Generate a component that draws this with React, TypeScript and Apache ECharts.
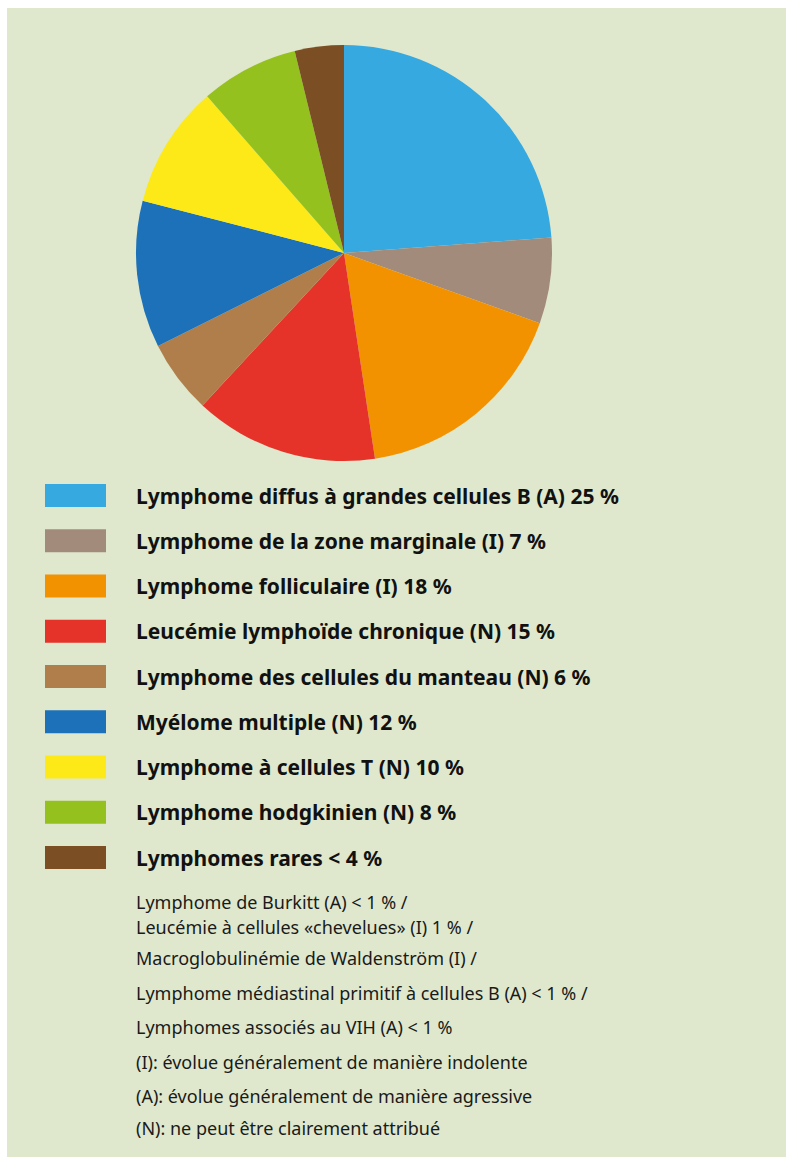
import React, { useEffect, useRef } from "react";
import * as echarts from "echarts";

const categories = [
  "Lymphome diffus à grandes cellules B (A)",
  "Lymphome de la zone marginale (I)",
  "Lymphome folliculaire (I)",
  "Leucémie lymphoïde chronique (N)",
  "Lymphome des cellules du manteau (N)",
  "Myélome multiple (N)",
  "Lymphome à cellules T (N)",
  "Lymphome hodgkinien (N)",
  "Lymphomes rares",
];
const values = [25, 7, 18, 15, 6, 12, 10, 8, 4];
const valueLabels = ["25 %", "7 %", "18 %", "15 %", "6 %", "12 %", "10 %", "8 %", "< 4 %"];
const colors = [
  "#36a9e1",
  "#a38b7b",
  "#f39200",
  "#e6332a",
  "#b07e4a",
  "#1d71b8",
  "#fde917",
  "#95c11f",
  "#7b4e24",
];
const notes = [
  "Lymphome de Burkitt (A) < 1 % /",
  "Leucémie à cellules «chevelues» (I) 1 % /",
  "Macroglobulinémie de Waldenström (I) /",
  "Lymphome médiastinal primitif à cellules B (A) < 1 % /",
  "Lymphomes associés au VIH (A) < 1 %",
  "(I): évolue généralement de manière indolente",
  "(A): évolue généralement de manière agressive",
  "(N): ne peut être clairement attribué",
];
const noteY = [902, 927, 958, 993, 1027, 1062, 1096, 1128];

const FONT = '"Noto Sans", "Open Sans", sans-serif';

export default function App() {
  const ref = useRef<HTMLDivElement>(null);
  useEffect(() => {
    if (!ref.current) return;
    const chart = echarts.init(ref.current, null, { renderer: "svg" });
    const labelMap: Record<string, string> = {};
    categories.forEach((c, i) => (labelMap[c] = c + " " + valueLabels[i]));
    chart.setOption({
      animation: false,
      backgroundColor: "#ffffff",
      color: colors,
      graphic: [
        {
          type: "rect",
          z: -10,
          silent: true,
          shape: { x: 7, y: 8, width: 779, height: 1149 },
          style: { fill: "#dfe8cd" },
        },
        ...notes.map((t, i) => ({
          type: "text",
          x: 136,
          y: noteY[i],
          style: {
            text: t,
            fill: "#1a1a1a",
            font: `18px ${FONT}`,
            verticalAlign: "middle",
            align: "left",
          },
        })),
      ],
      legend: {
        orient: "vertical",
        left: 45,
        top: 484,
        padding: 0,
        icon: "rect",
        itemWidth: 61,
        itemHeight: 23,
        itemGap: 22.25,
        selectedMode: false,
        data: categories,
        formatter: (name: string) => labelMap[name],
        textStyle: {
          fontFamily: FONT,
          fontWeight: "bold",
          fontSize: 21,
          color: "#111111",
          lineHeight: 23,
          padding: [0, 0, 0, 25],
        },
      },
      series: [
        {
          type: "pie",
          center: [344, 253],
          radius: 208,
          startAngle: 90,
          clockwise: true,
          label: { show: false },
          labelLine: { show: false },
          emphasis: { disabled: true },
          itemStyle: { borderWidth: 0 },
          data: categories.map((c, i) => ({ name: c, value: values[i] })),
        },
      ],
    });
    return () => chart.dispose();
  }, []);
  return (
    <div
      ref={ref}
      style={{ position: "absolute", left: 0, top: 0, width: 786, height: 1157 }}
    />
  );
}
